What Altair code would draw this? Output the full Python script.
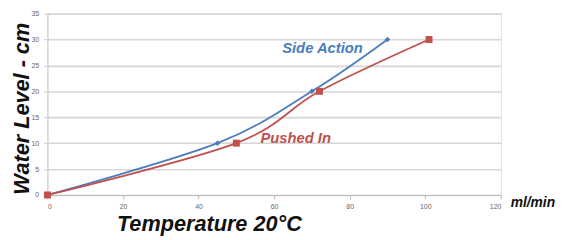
import altair as alt
import pandas as pd

series = ["Side Action"] * 4 + ["Pushed In"] * 4
flow = [0, 45, 70, 90, 0, 50, 72, 101]
level = [0, 10, 20, 30, 0, 10, 20, 30]

label_text = ["Side Action", "Pushed In"]
label_x = [72.8, 65.7]
label_y = [28.3, 11.0]

colors = ["#4a7ebb", "#c0504d"]

df = pd.DataFrame({"series": series, "flow": flow, "level": level})
lab = pd.DataFrame({"text": label_text, "x": label_x, "y": label_y, "series": label_text})
unit = pd.DataFrame({"text": ["ml/min"], "x": [120], "y": [0]})

FONT = "Liberation Sans"

xs = alt.Scale(domain=[0, 120], nice=False)
ys = alt.Scale(domain=[0, 35], nice=False)
cs = alt.Scale(domain=["Side Action", "Pushed In"], range=colors)

base = alt.Chart(df)

lines = base.mark_line(interpolate="cardinal", strokeWidth=1.8).encode(
    x=alt.X("flow:Q", scale=xs, axis=alt.Axis(
        values=[0, 20, 40, 60, 80, 100, 120], tickCount=7, grid=False, labelOverlap=False,
        title="Temperature 20°C", titleFont=FONT, titleFontSize=22,
        titleFontStyle="italic", titleFontWeight="bold", titleColor="#111111",
        titleAnchor="start", titleAlign="left", titleX=70, titleY=36,
        titleBaseline="alphabetic",
        labelFontSize=7, labelColor="#666666", labelFont=FONT,
        domainColor="#bbbbbb", tickColor="#bbbbbb", tickSize=4, labelPadding=4)),
    y=alt.Y("level:Q", scale=ys, axis=alt.Axis(
        values=[0, 5, 10, 15, 20, 25, 30, 35], tickCount=8,
        gridColor="#d6d6d6", gridWidth=1.6, labelOverlap=False,
        title="Water Level - cm", titleFont=FONT, titleFontSize=22,
        titleFontStyle="italic", titleFontWeight="bold", titleColor="#111111",
        titleX=-14, titleY=96,
        labelFontSize=7, labelColor="#666666", labelFont=FONT,
        domainColor="#cccccc", tickColor="#cccccc", tickSize=4, labelPadding=5)),
    color=alt.Color("series:N", scale=cs, legend=None),
    detail="series:N",
)

pts = base.mark_point(filled=True, opacity=1).encode(
    x=alt.X("flow:Q", scale=xs),
    y=alt.Y("level:Q", scale=ys),
    color=alt.Color("series:N", scale=cs, legend=None),
    shape=alt.Shape("series:N", scale=alt.Scale(domain=["Side Action", "Pushed In"],
                                                  range=["diamond", "square"]), legend=None),
    size=alt.Size("series:N", scale=alt.Scale(domain=["Side Action", "Pushed In"],
                                                range=[32, 50]), legend=None),
)

labels = alt.Chart(lab).mark_text(font=FONT, fontSize=15, fontStyle="italic",
                                  fontWeight="bold").encode(
    x=alt.X("x:Q", scale=xs),
    y=alt.Y("y:Q", scale=ys),
    text="text:N",
    color=alt.Color("series:N", scale=cs, legend=None),
)

unit_text = alt.Chart(unit).mark_text(font=FONT, fontSize=14, fontStyle="italic",
                                      fontWeight="bold", align="left", dx=10, dy=8,
                                      color="#111111").encode(
    x=alt.X("x:Q", scale=xs),
    y=alt.Y("y:Q", scale=ys),
    text="text:N",
)

chart = alt.layer(lines, pts, labels, unit_text).properties(
    width=460, height=184,
    autosize=alt.AutoSizeParams(type="none"),
    padding={"left": 40, "top": 4, "right": 57, "bottom": 44},
).configure_view(stroke=None).configure(background="white")

chart.save("out.html", embed_options={"renderer": "svg", "actions": False})
